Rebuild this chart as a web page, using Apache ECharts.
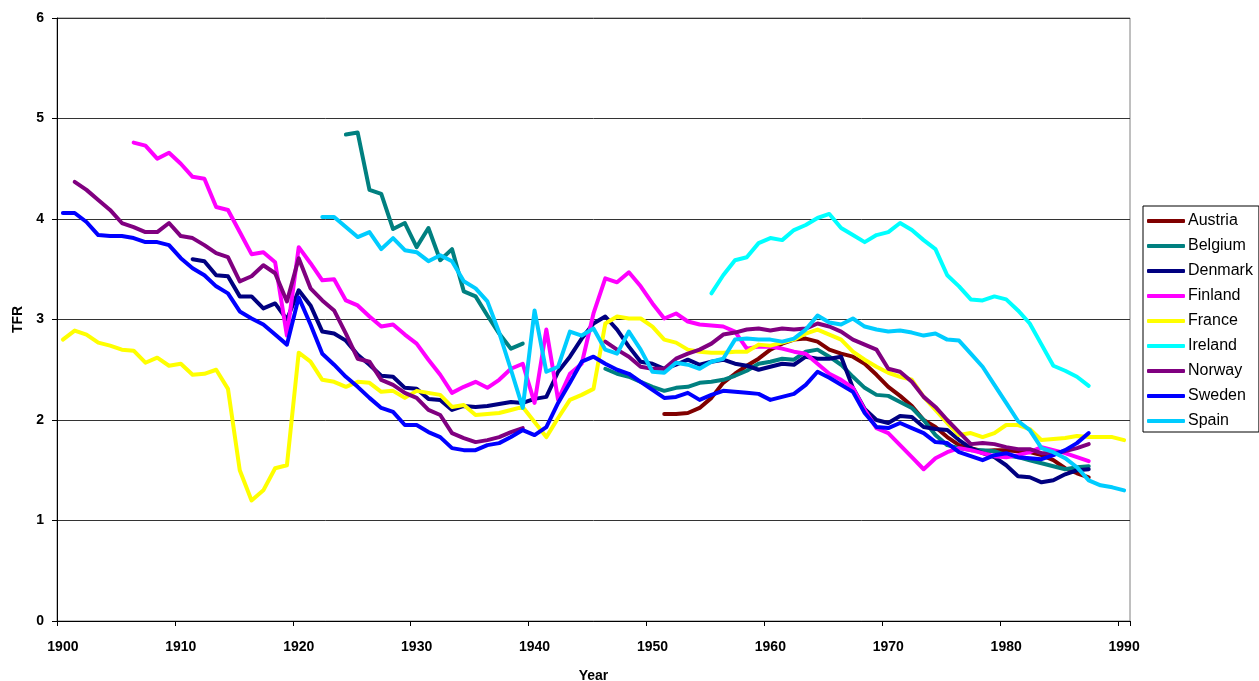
<!DOCTYPE html>
<html>
<head>
<meta charset="utf-8">
<title>TFR 1900-1990</title>
<script src="https://cdn.jsdelivr.net/npm/echarts@6/dist/echarts.min.js"></script>
<style>
  html, body { margin: 0; padding: 0; background: #fff; }
  #chart { width: 1259px; height: 681px; }
</style>
</head>
<body>
<div id="chart"></div>
<script>
// years on the category axis, 1900..1990
var firstYear = 1900, lastYear = 1990;
var years = [];
for (var y = firstYear; y <= lastYear; y++) years.push(String(y));

var countries = ['Austria', 'Belgium', 'Denmark', 'Finland', 'France', 'Ireland', 'Norway', 'Sweden', 'Spain'];
var colors = ['#800000', '#008080', '#000080', '#FF00FF', '#FFFF00', '#00FFFF', '#800080', '#0000FF', '#00CCFF'];

// each series: first year, then one value per year (null = no data)
var austriaStart = 1951;
var austria = [
  2.06, 2.06, 2.07, 2.12, 2.22, 2.37, 2.46, 2.54, 2.61, 2.70,
  2.76, 2.80, 2.81, 2.78, 2.70, 2.66, 2.63, 2.56, 2.45, 2.33,
  2.24, 2.14, 2.00, 1.93, 1.83, 1.75, 1.72, 1.69, 1.70, 1.70,
  1.69, 1.68, 1.65, 1.60, 1.52, 1.47, 1.43
];

var belgiumStart = 1924;
var belgium = [
  4.84, 4.86, 4.29, 4.25, 3.90, 3.96,
  3.72, 3.91, 3.59, 3.70, 3.28, 3.23, 3.04, 2.86, 2.71, 2.76,
  null, null, null, null, null, null, 2.51, 2.46, 2.43, 2.38,
  2.33, 2.29, 2.32, 2.33, 2.37, 2.38, 2.40, 2.44, 2.49, 2.56,
  2.58, 2.61, 2.60, 2.68, 2.70, 2.63, 2.55, 2.43, 2.32, 2.25,
  2.24, 2.18, 2.12, 2.00, 1.85, 1.75, 1.72, 1.70, 1.70, 1.69,
  1.65, 1.63, 1.60, 1.57, 1.54, 1.51, 1.53, 1.54
];

var denmarkStart = 1911;
var denmark = [
  3.60, 3.58, 3.44, 3.43, 3.23, 3.23, 3.11, 3.16, 3.00,
  3.29, 3.14, 2.88, 2.86, 2.79, 2.65, 2.55, 2.44, 2.43, 2.32,
  2.31, 2.21, 2.20, 2.10, 2.14, 2.13, 2.14, 2.16, 2.18, 2.17,
  2.21, 2.23, 2.48, 2.63, 2.81, 2.96, 3.03, 2.90, 2.73, 2.58,
  2.56, 2.51, 2.55, 2.60, 2.55, 2.58, 2.60, 2.56, 2.54, 2.50,
  2.53, 2.56, 2.55, 2.63, 2.61, 2.61, 2.63, 2.32, 2.11, 2.00,
  1.97, 2.04, 2.03, 1.93, 1.91, 1.90, 1.80, 1.72, 1.67, 1.63,
  1.55, 1.44, 1.43, 1.38, 1.40, 1.46, 1.50, 1.51
];

var finlandStart = 1906;
var finland = [
  4.76, 4.73, 4.60, 4.66,
  4.55, 4.42, 4.40, 4.12, 4.09, 3.87, 3.65, 3.67, 3.57, 2.84,
  3.72, 3.56, 3.39, 3.40, 3.19, 3.14, 3.03, 2.93, 2.95, 2.85,
  2.76, 2.60, 2.45, 2.27, 2.33, 2.38, 2.32, 2.40, 2.51, 2.56,
  2.17, 2.90, 2.20, 2.46, 2.56, 3.06, 3.41, 3.37, 3.47, 3.33,
  3.16, 3.01, 3.06, 2.98, 2.95, 2.94, 2.93, 2.88, 2.71, 2.73,
  2.73, 2.71, 2.68, 2.66, 2.56, 2.46, 2.40, 2.32, 2.10, 1.92,
  1.87, 1.75, 1.63, 1.51, 1.62, 1.68, 1.72, 1.70, 1.67, 1.64,
  1.63, 1.65, 1.68, 1.73, 1.70, 1.67, 1.63, 1.59
];

var franceStart = 1900;
var france = [
  2.80, 2.89, 2.85, 2.77, 2.74, 2.70, 2.69, 2.57, 2.62, 2.54,
  2.56, 2.45, 2.46, 2.50, 2.31, 1.50, 1.20, 1.30, 1.52, 1.55,
  2.67, 2.58, 2.40, 2.38, 2.33, 2.38, 2.37, 2.28, 2.29, 2.22,
  2.29, 2.27, 2.25, 2.13, 2.15, 2.05, 2.06, 2.07, 2.10, 2.13,
  1.98, 1.83, 2.02, 2.20, 2.25, 2.31, 2.96, 3.03, 3.01, 3.01,
  2.93, 2.80, 2.77, 2.70, 2.68, 2.67, 2.67, 2.68, 2.68, 2.75,
  2.74, 2.77, 2.80, 2.86, 2.90, 2.85, 2.80, 2.68, 2.60, 2.53,
  2.47, 2.43, 2.40, 2.23, 2.10, 1.97, 1.85, 1.87, 1.83, 1.87,
  1.95, 1.95, 1.91, 1.80, 1.81, 1.82, 1.84, 1.83, 1.83, 1.83,
  1.80
];

var irelandStart = 1955;
var ireland = [
  3.26, 3.44, 3.59, 3.62, 3.76,
  3.81, 3.79, 3.89, 3.94, 4.01, 4.05, 3.91, 3.84, 3.77, 3.84,
  3.87, 3.96, 3.89, 3.79, 3.70, 3.44, 3.33, 3.20, 3.19, 3.23,
  3.20, 3.09, 2.96, 2.75, 2.54, 2.49, 2.43, 2.34
];

var norwayStart = 1901;
var norway = [
  4.37, 4.29, 4.19, 4.09, 3.96, 3.92, 3.87, 3.87, 3.96,
  3.83, 3.81, 3.74, 3.66, 3.62, 3.38, 3.43, 3.54, 3.46, 3.18,
  3.61, 3.31, 3.19, 3.09, 2.86, 2.61, 2.58, 2.40, 2.35, 2.27,
  2.22, 2.10, 2.05, 1.87, 1.82, 1.78, 1.80, 1.83, 1.88, 1.92,
  null, null, null, null, null, null, 2.78, 2.70, 2.63, 2.53,
  2.51, 2.51, 2.61, 2.66, 2.70, 2.76, 2.85, 2.87, 2.90, 2.91,
  2.89, 2.91, 2.90, 2.91, 2.96, 2.93, 2.88, 2.80, 2.75, 2.70,
  2.51, 2.48, 2.38, 2.23, 2.13, 2.00, 1.88, 1.76, 1.77, 1.76,
  1.73, 1.71, 1.71, 1.67, 1.67, 1.69, 1.72, 1.76
];

var swedenStart = 1900;
var sweden = [
  4.06, 4.06, 3.97, 3.84, 3.83, 3.83, 3.81, 3.77, 3.77, 3.74,
  3.61, 3.51, 3.44, 3.33, 3.26, 3.08, 3.01, 2.95, 2.85, 2.75,
  3.22, 2.95, 2.66, 2.55, 2.43, 2.33, 2.22, 2.12, 2.08, 1.95,
  1.95, 1.88, 1.83, 1.72, 1.70, 1.70, 1.75, 1.77, 1.83, 1.90,
  1.85, 1.93, 2.17, 2.37, 2.58, 2.63, 2.56, 2.50, 2.46, 2.38,
  2.30, 2.22, 2.23, 2.27, 2.20, 2.25, 2.29, 2.28, 2.27, 2.26,
  2.20, 2.23, 2.26, 2.35, 2.48, 2.42, 2.35, 2.28, 2.07, 1.93,
  1.92, 1.97, 1.92, 1.87, 1.78, 1.77, 1.68, 1.64, 1.60, 1.65,
  1.67, 1.63, 1.62, 1.61, 1.65, 1.70, 1.77, 1.87
];

var spainStart = 1922;
var spain = [
  4.02, 4.02, 3.92, 3.82, 3.87, 3.70, 3.81, 3.69,
  3.67, 3.58, 3.64, 3.58, 3.38, 3.31, 3.18, 2.87, 2.50, 2.12,
  3.09, 2.48, 2.53, 2.88, 2.84, 2.91, 2.70, 2.66, 2.88, 2.70,
  2.48, 2.47, 2.57, 2.55, 2.51, 2.58, 2.61, 2.80, 2.81, 2.80,
  2.80, 2.78, 2.81, 2.90, 3.04, 2.97, 2.95, 3.01, 2.93, 2.90,
  2.88, 2.89, 2.87, 2.84, 2.86, 2.80, 2.79, 2.66, 2.53, 2.35,
  2.17, 1.99, 1.90, 1.72, 1.68, 1.62, 1.53, 1.40, 1.35, 1.33,
  1.30
];

var yTicks = [0, 1, 2, 3, 4, 5, 6];

var starts = [austriaStart, belgiumStart, denmarkStart, finlandStart, franceStart,
              irelandStart, norwayStart, swedenStart, spainStart];
var values = [austria, belgium, denmark, finland, france, ireland, norway, sweden, spain];

// place a series on the full year axis
function onYears(start, vals) {
  var out = [];
  for (var i = 0; i < years.length; i++) {
    var k = (firstYear + i) - start;
    out.push(k >= 0 && k < vals.length ? vals[k] : null);
  }
  return out;
}

var font = 'Liberation Sans, Arial, sans-serif';

var chart = echarts.init(document.getElementById('chart'));
chart.setOption({
  animation: false,
  backgroundColor: '#ffffff',
  color: colors,
  grid: {
    left: 57, right: 129, top: 18, bottom: 60,
    outerBoundsMode: 'none',
    show: true, borderColor: '#808080', borderWidth: 1
  },
  legend: {
    orient: 'vertical',
    left: 1143, top: 206,
    width: 112,
    padding: [7, 6, 3, 4],
    itemGap: 9,
    itemWidth: 38,
    itemHeight: 4,
    icon: 'roundRect',
    borderColor: '#000',
    borderWidth: 1,
    selectedMode: false,
    textStyle: { fontFamily: font, fontSize: 16, color: '#000', lineHeight: 16, padding: [0, 0, 0, -2] },
    data: countries
  },
  xAxis: {
    type: 'category',
    data: years,
    boundaryGap: true,
    name: 'Year',
    nameLocation: 'middle',
    nameGap: 48,
    nameTextStyle: { fontFamily: font, fontSize: 14, fontWeight: 'bold', color: '#000' },
    axisLine: { lineStyle: { color: '#000', width: 1 } },
    axisTick: { show: true, interval: 9, length: 5, lineStyle: { color: '#000' } },
    axisLabel: { interval: 9, margin: 19, fontFamily: font, fontSize: 14, fontWeight: 'bold', color: '#000' },
    splitLine: { show: false }
  },
  yAxis: {
    type: 'value',
    min: yTicks[0], max: yTicks[yTicks.length - 1], interval: 1,
    name: 'TFR',
    nameLocation: 'middle',
    nameRotate: 90,
    nameGap: 32,
    nameTextStyle: { fontFamily: font, fontSize: 14, fontWeight: 'bold', color: '#000' },
    axisLine: { show: true, lineStyle: { color: '#000', width: 1 } },
    axisTick: { show: true, length: 5, lineStyle: { color: '#000' } },
    axisLabel: { margin: 13, fontFamily: font, fontSize: 14, fontWeight: 'bold', color: '#000' },
    splitLine: { show: true, lineStyle: { color: '#333', width: 1 } }
  },
  series: countries.map(function (name, i) {
    return {
      name: name,
      type: 'line',
      data: onYears(starts[i], values[i]),
      symbol: 'none',
      showSymbol: false,
      connectNulls: false,
      lineStyle: { width: 4, color: colors[i], cap: 'round', join: 'round' },
      itemStyle: { color: colors[i] },
      emphasis: { disabled: true }
    };
  })
});
</script>
</body>
</html>
